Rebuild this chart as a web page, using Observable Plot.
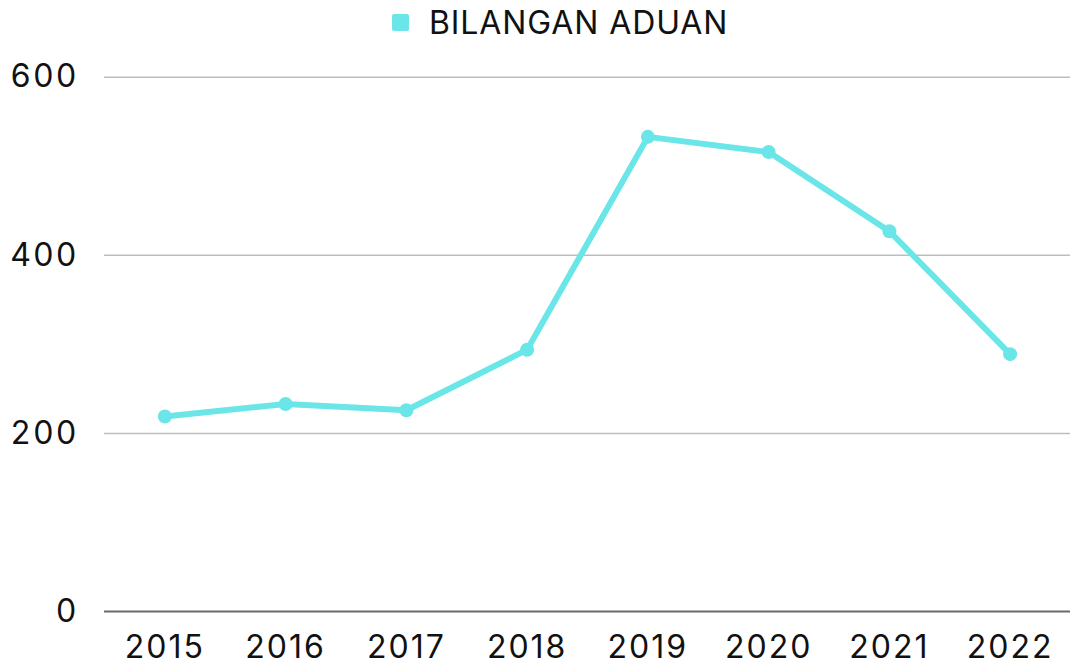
<!DOCTYPE html>
<html>
<head>
<meta charset="utf-8">
<script src="https://cdn.jsdelivr.net/npm/d3@7"></script>
<script src="https://cdn.jsdelivr.net/npm/@observablehq/plot@0.6"></script>
<style>
  html, body { margin: 0; padding: 0; background: #fff; }
  body { width: 1070px; height: 666px; overflow: hidden; font-family: Inter, "Noto Sans", sans-serif; }
  #legend { position: relative; height: 48px; }
  #legend .sw { position: absolute; left: 392px; top: 14px; width: 17px; height: 17px; background: #6be6e8; border-radius: 2px; }
  #legend .lb { position: absolute; left: 429px; top: 4px; font-size: 32px; line-height: 38px; color: #111; letter-spacing: 0.9px; }
  svg { display: block; }
  svg g[aria-label$="tick label"] text { letter-spacing: 2px; }
</style>
</head>
<body>
<div id="legend"><span class="sw"></span><span class="lb">BILANGAN ADUAN</span></div>
<div id="chart"></div>
<script>
const years = ["2015", "2016", "2017", "2018", "2019", "2020", "2021", "2022"];
const aduan = [219, 233, 226, 294, 533, 516, 427, 289];
const yTicks = [0, 200, 400, 600];

const data = years.map((y, i) => ({year: y, value: aduan[i]}));
const color = "#6be6e8";

const chart = Plot.plot({
  width: 1070,
  height: 618,
  marginLeft: 104,
  marginRight: 0,
  marginTop: 28.7,
  marginBottom: 55,
  style: {fontFamily: "Inter, 'Noto Sans', sans-serif", fontSize: "32px", color: "#111", background: "#fff"},
  x: {type: "point", domain: years, padding: 0.5, round: false, label: null},
  y: {domain: [0, 600], label: null},
  marks: [
    Plot.ruleY(yTicks.filter(d => d > 0), {stroke: "#bdbdbd", strokeWidth: 1.5}),
    Plot.ruleY([0], {stroke: "#6a6a6a", strokeWidth: 2}),
    Plot.axisY(yTicks, {tickSize: 0, tickPadding: 26, fontSize: 32, fill: "#111", label: null}),
    Plot.axisX({tickSize: 0, tickPadding: 24, fontSize: 32, fill: "#111", label: null}),
    Plot.line(data, {x: "year", y: "value", stroke: color, strokeWidth: 6, strokeLinejoin: "round", strokeLinecap: "round"}),
    Plot.dot(data, {x: "year", y: "value", fill: color, r: 7})
  ]
});
document.getElementById("chart").appendChild(chart);
</script>
</body>
</html>
